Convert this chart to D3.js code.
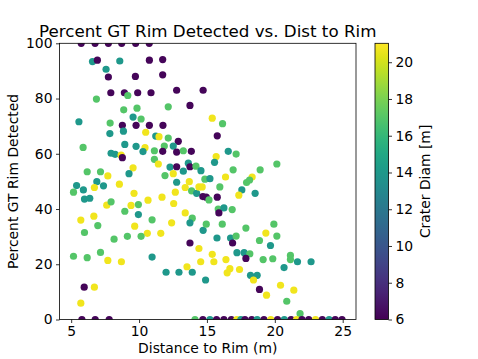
<!DOCTYPE html>
<html>
<head>
<meta charset="utf-8">
<script src="https://cdn.jsdelivr.net/npm/d3@7"></script>
<style>
  body { margin: 0; background: #fff; }
  text { font-family: "DejaVu Sans", sans-serif; fill: #000; }
</style>
</head>
<body>
<svg id="chart" width="478" height="359"></svg>
<script>
// distance to rim (m), percent of GT rim detected, crater diameter (m)
const dist = [
  5.74, 6.76, 7.74, 8.72, 9.75, 10.75,
  6.57, 6.93, 8.58, 10.76, 11.74, 7.57, 7.74, 9.73, 11.74, 7.92, 8.92, 9.17, 9.90, 10.88,
  12.77, 14.72, 6.86, 13.75, 12.15, 8.87, 9.85, 9.56, 10.15, 5.57, 7.87, 8.77, 9.78, 10.76,
  11.76, 8.85, 7.85, 10.49, 11.23, 11.47, 12.15, 11.86, 12.89, 12.52, 8.95, 9.78, 10.44, 5.88,
  11.13, 10.29, 11.74, 12.77, 13.26, 13.85, 7.94, 8.24, 8.68, 8.77, 11.13, 11.42, 12.28, 12.77,
  13.63, 13.75, 14.19, 14.56, 9.56, 6.18, 7.16, 7.70, 9.26, 13.26, 11.91, 12.52, 5.40, 6.89,
  8.55, 12.77, 13.70,
  5.17, 5.90, 5.98, 6.37, 6.71, 7.38, 7.62, 7.94, 9.63, 9.41, 9.95, 10.66, 11.69, 12.67,
  12.55, 13.40, 13.87, 14.24, 14.41, 14.65, 14.70, 14.95, 8.95, 9.95, 5.71, 6.67, 6.96, 5.98,
  10.96, 9.68, 13.40, 13.92, 13.75, 12.40, 14.72, 10.61, 11.60, 8.16, 9.14, 10.15, 13.75, 14.41,
  5.17, 6.18, 7.16, 7.70, 8.70, 10.96, 14.54, 13.53, 11.99, 12.94, 13.92, 14.90, 5.96, 6.71, 5.71,
  15.39, 16.15, 15.76, 15.68, 16.57, 17.15, 15.56, 20.15, 16.93, 18.92, 16.37, 18.33, 18.14,
  17.92, 14.85, 15.22, 15.95,
  17.57, 18.55, 17.35, 15.76, 15.15, 15.83, 16.25, 16.86, 15.88, 14.95, 16.13, 19.93, 17.87,
  19.34, 20.15, 15.74, 16.74, 17.15, 18.87, 16.89, 19.68, 15.39, 17.21, 17.74, 18.16, 17.87,
  19.14, 19.85, 21.15, 21.15, 21.67, 22.67, 20.68, 15.51, 16.40, 16.69, 16.49, 17.40, 18.21,
  18.70, 18.43, 20.42, 21.40, 18.87, 19.39, 20.88, 21.86,
  5.79, 6.77, 7.80, 14.12, 14.70, 15.22, 15.71, 16.25, 16.80, 17.20, 17.50, 17.80, 18.30,
  18.70, 19.20, 19.70, 20.20, 20.70, 21.20, 21.60, 22.00, 22.50, 23.00, 23.50, 24.00, 24.45, 24.95
];
const pct = [
  100, 100, 100, 100, 100, 100,
  93.4, 93.9, 93.6, 93.9, 94.1, 90.6, 87.8, 88.0, 88.6, 82.1, 82.1, 81.1, 82.1, 82.1,
  83.0, 83.0, 79.8, 77.5, 77.0, 75.9, 76.5, 73.3, 72.6, 71.6, 71.1, 70.3, 70.3, 70.3,
  70.3, 68.2, 67.3, 67.8, 66.4, 66.2, 65.7, 62.8, 64.5, 62.8, 63.4, 62.7, 62.2, 62.3,
  61.1, 60.8, 60.9, 60.6, 61.1, 60.9, 60.2, 59.8, 59.5, 58.6, 58.0, 56.3, 55.2, 55.3,
  56.6, 55.3, 55.5, 53.9, 54.9, 53.5, 53.5, 52.0, 52.8, 53.7, 52.1, 52.8, 48.5, 49.9,
  49.0, 49.7, 49.9,
  46.1, 46.9, 43.6, 43.9, 47.8, 48.4, 41.4, 42.6, 45.7, 41.3, 41.6, 43.2, 44.3, 46.1,
  42.0, 47.8, 46.6, 45.7, 48.0, 48.0, 44.5, 44.3, 39.2, 38.0, 36.0, 37.4, 34.0, 31.5,
  36.1, 33.8, 38.6, 36.7, 35.0, 35.0, 32.3, 31.2, 31.2, 29.1, 30.1, 30.1, 27.7, 25.7,
  22.9, 22.4, 24.3, 21.4, 20.9, 22.6, 20.9, 19.1, 17.1, 17.1, 17.1, 14.3, 11.7, 11.7, 5.9,
  72.9, 70.9, 66.5, 59.0, 60.9, 59.9, 56.9, 56.3, 54.2, 54.2, 51.6, 51.6, 50.5,
  49.6, 50.8, 51.0, 48.0,
  46.9, 45.7, 45.0, 44.3, 43.3, 40.0, 40.4, 39.8, 38.6, 34.5, 34.5, 34.5, 33.1,
  31.3, 30.2, 29.5, 29.5, 30.2, 28.6, 27.7, 26.8, 23.6, 24.2, 24.2, 23.8, 22.1,
  21.7, 22.0, 23.2, 21.7, 20.9, 20.9, 18.8, 20.9, 21.7, 18.4, 16.9, 18.1, 16.0,
  16.0, 14.3, 12.4, 10.6, 10.9, 8.8, 6.6, 2.1,
  0, 0, 0, 0, 0, 0, 0, 0, 0, 0, 0, 0, 0,
  0, 0, 0, 0, 0, 0, 0, 0, 0, 0, 0, 0, 0, 0
];
const diam = [
  6.2, 6.2, 6.2, 6.2, 6.2, 6.2,
  14, 6.2, 14, 6.2, 6.2, 14, 6.2, 6.2, 6.2, 6.2, 6.2, 17, 6.2, 6.2,
  6.2, 6.2, 17, 6.2, 17, 17, 17, 14, 17, 14, 17, 6.2, 6.2, 6.2,
  6.2, 14, 14, 20.7, 14, 20.7, 17, 17, 6.2, 14, 14, 14, 20.7, 17,
  17, 14, 6.2, 6.2, 17, 6.2, 14, 14, 20.7, 6.2, 17, 20.7, 14, 6.2,
  14, 6.2, 17, 14, 20.7, 17, 17, 20.7, 14, 14, 17, 20.7, 14, 14,
  20.7, 14, 20.7,
  17, 14, 14, 14, 20.7, 14, 20.7, 17, 20.7, 20.7, 17, 20.7, 20.7, 20.7,
  20.7, 20.7, 17, 14, 20.7, 20.7, 6.2, 6.2, 17, 14, 20.7, 20.7, 17, 17,
  17, 20.7, 20.7, 17, 14, 20.7, 14, 20.7, 20.7, 17, 17, 17, 6.2, 20.7,
  17, 17, 17, 20.7, 20.7, 14, 20.7, 20.7, 14, 14, 14, 14, 6.2, 20.7, 20.7,
  20.7, 17, 6.2, 20.7, 14, 17, 14, 17, 17, 17, 20.7, 20.7, 17,
  17, 17, 14, 17,
  14, 14, 20.7, 6.2, 17, 17, 14, 17, 6.2, 17, 17, 17, 17,
  20.7, 17, 14, 14, 17, 17, 6.2, 14, 20.7, 14, 14, 17, 6.2,
  17, 17, 17, 17, 14, 14, 14, 20.7, 20.7, 20.7, 20.7, 20.7, 14,
  14, 20.7, 20.7, 20.7, 6.2, 20.7, 17, 17,
  6.2, 6.2, 6.2, 17, 6.2, 14, 6.2, 6.2, 6.2, 20.7, 14, 6.2, 6.2,
  14, 6.2, 20.7, 6.2, 14, 6.2, 20.7, 6.2, 6.2, 20.7, 6.2, 14, 6.2, 6.2
];
const xTicks = [5, 10, 15, 20, 25];
const yTicks = [0, 20, 40, 60, 80, 100];
const cTicks = [6, 8, 10, 12, 14, 16, 18, 20];

const svg = d3.select("#chart");
const plot = { left: 59.5, right: 356, top: 43.3, bottom: 319.5 };
const cbar = { left: 375, right: 388.5, top: 43.3, bottom: 319.5 };

const x = d3.scaleLinear().domain([4.14, 25.98]).range([plot.left, plot.right]);
const y = d3.scaleLinear().domain([0, 100]).range([plot.bottom, plot.top]);
const cScale = d3.scaleLinear().domain([6, 21.03]).range([cbar.bottom, cbar.top]);
const color = d3.scaleSequential(d3.interpolateViridis).domain([6, 21.03]);

svg.append("clipPath").attr("id", "clip")
  .append("rect")
  .attr("x", plot.left).attr("y", plot.top)
  .attr("width", plot.right - plot.left).attr("height", plot.bottom - plot.top);

const points = dist.map((d, i) => ({ d: d, p: pct[i], c: diam[i] }));

svg.append("g").attr("clip-path", "url(#clip)")
  .selectAll("circle")
  .data(points)
  .enter()
  .append("circle")
  .attr("cx", d => x(d.d))
  .attr("cy", d => y(d.p))
  .attr("r", 3.6)
  .attr("fill", d => color(d.c));

// axes
const xAxis = d3.axisBottom(x).tickValues(xTicks).tickSize(3.5).tickPadding(3.5);
const yAxis = d3.axisLeft(y).tickValues(yTicks).tickSize(3.5).tickPadding(3.5);

const gx = svg.append("g").attr("transform", `translate(0,${plot.bottom})`).call(xAxis);
const gy = svg.append("g").attr("transform", `translate(${plot.left},0)`).call(yAxis);
[gx, gy].forEach(g => {
  g.select(".domain").remove();
  g.selectAll("text").style("font-size", "13.9px").style("font-family", "DejaVu Sans");
  g.selectAll("line").attr("stroke", "#000").attr("stroke-width", 0.8);
});

svg.append("rect")
  .attr("x", plot.left).attr("y", plot.top)
  .attr("width", plot.right - plot.left).attr("height", plot.bottom - plot.top)
  .attr("fill", "none").attr("stroke", "#000").attr("stroke-width", 0.8);

// colorbar
const grad = svg.append("defs").append("linearGradient")
  .attr("id", "viridis").attr("x1", 0).attr("y1", 1).attr("x2", 0).attr("y2", 0);
d3.range(0, 1.0001, 0.05).forEach(t => {
  grad.append("stop").attr("offset", t).attr("stop-color", d3.interpolateViridis(t));
});
svg.append("rect")
  .attr("x", cbar.left).attr("y", cbar.top)
  .attr("width", cbar.right - cbar.left).attr("height", cbar.bottom - cbar.top)
  .attr("fill", "url(#viridis)").attr("stroke", "#000").attr("stroke-width", 0.8);

const cAxis = d3.axisRight(cScale).tickValues(cTicks).tickSize(3.5).tickPadding(3.5);
const gc = svg.append("g").attr("transform", `translate(${cbar.right},0)`).call(cAxis);
gc.select(".domain").remove();
gc.selectAll("text").style("font-size", "13.9px").style("font-family", "DejaVu Sans");
gc.selectAll("line").attr("stroke", "#000").attr("stroke-width", 0.8);

// titles
svg.append("text")
  .attr("x", (plot.left + plot.right) / 2).attr("y", 36.5)
  .attr("text-anchor", "middle").style("font-size", "16.7px")
  .text("Percent GT Rim Detected vs. Dist to Rim");

svg.append("text")
  .attr("x", (plot.left + plot.right) / 2).attr("y", 353)
  .attr("text-anchor", "middle").style("font-size", "13.9px")
  .text("Distance to Rim (m)");

svg.append("text")
  .attr("transform", `translate(18,${(plot.top + plot.bottom) / 2}) rotate(-90)`)
  .attr("text-anchor", "middle").style("font-size", "13.9px")
  .text("Percent GT Rim Detected");

svg.append("text")
  .attr("transform", `translate(430,${(cbar.top + cbar.bottom) / 2}) rotate(-90)`)
  .attr("text-anchor", "middle").style("font-size", "13.9px")
  .text("Crater Diam [m]");
</script>
</body>
</html>
